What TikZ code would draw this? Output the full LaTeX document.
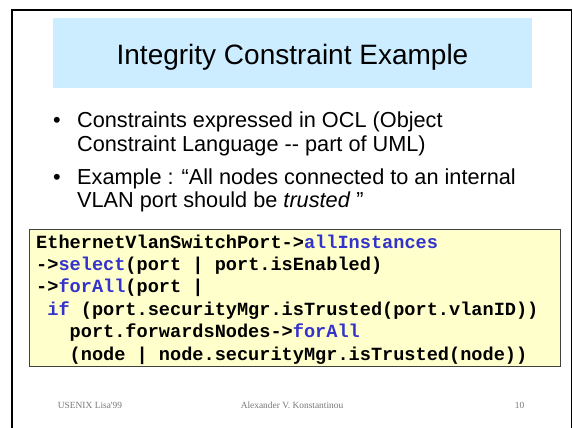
\documentclass[tikz,border=0pt]{standalone}
\usepackage{fontspec}
\setmainfont{Liberation Sans}
\setmonofont{Liberation Mono}
\newfontfamily\footfont{Liberation Serif}

\definecolor{titlebg}{RGB}{204,236,255}
\definecolor{codebg}{RGB}{255,255,204}
\definecolor{codeframe}{RGB}{64,64,64}
\definecolor{kw}{RGB}{51,51,204}
\definecolor{footgray}{RGB}{120,120,120}

% OCL keywords in blue, leading blanks as fixed-width gaps
\newcommand\kwd[1]{\textcolor{kw}{#1}}
\newcommand\blanks[1]{\hspace*{#1\fontcharwd\font`x}}

\tikzset{
  txt/.style={inner sep=0pt, anchor=base west},
  titletext/.style={inner sep=0pt, anchor=base, font=\fontsize{28}{32}\selectfont},
  bullettext/.style={txt, font=\fontsize{21.7}{22}\selectfont},
  codeline/.style={txt, font=\fontsize{18.6}{22.4}\selectfont\ttfamily\bfseries},
  foottext/.style={inner sep=0pt, anchor=base, text=footgray, font=\footfont\fontsize{9.4}{11}\selectfont},
}

\begin{document}
\begin{tikzpicture}[x=1pt, y=-1pt]
\useasboundingbox (0,0) rectangle (573,428);
\fill[white] (0,0) rectangle (573,428);

% slide frame
\draw[line width=2pt] (12,430) -- (12,10) -- (571.5,10);
\draw[line width=1.2pt] (571.5,10) -- (571.5,430);

% title bar
\fill[titlebg] (53,18) rectangle (532,88);
\node[titletext] (title) at (292.5,64) {Integrity Constraint Example};

% bullets
\node[bullettext] (b1) at (53,127) {•};
\node[bullettext] (l1) at (77,127) {Constraints expressed in OCL (Object};
\node[bullettext] (l2) at (77,151) {Constraint Language -\kern0pt- part of UML)};
\node[bullettext] (b2) at (53,184) {•};
\node[bullettext] (l3) at (77,184) {Example : “All nodes connected to an internal};
\node[bullettext] (l4) at (77,207) {VLAN port should be \textit{trusted} ”};

% OCL code
\filldraw[fill=codebg, draw=codeframe, line width=0.8pt] (29,229) rectangle (560,366);
\node[codeline] (c1) at (36,248) {EthernetVlanSwitchPort->\kwd{allInstances}};
\node[codeline] (c2) at (36,270.4) {->\kwd{select}(port | port.isEnabled)};
\node[codeline] (c3) at (36,292.8) {->\kwd{forAll}(port |};
\node[codeline] (c4) at (36,315.2) {\blanks{1}\kwd{if} (port.securityMgr.isTrusted(port.vlanID))};
\node[codeline] (c5) at (36,337.6) {\blanks{3}port.forwardsNodes->\kwd{forAll}};
\node[codeline] (c6) at (36,360) {\blanks{3}(node | node.securityMgr.isTrusted(node))};

% footer
\node[foottext] (f1) at (90,408.5) {USENIX Lisa'99};
\node[foottext] (f2) at (292,408.5) {Alexander V. Konstantinou};
\node[foottext] (f3) at (519.5,408.5) {10};
\end{tikzpicture}
\end{document}
